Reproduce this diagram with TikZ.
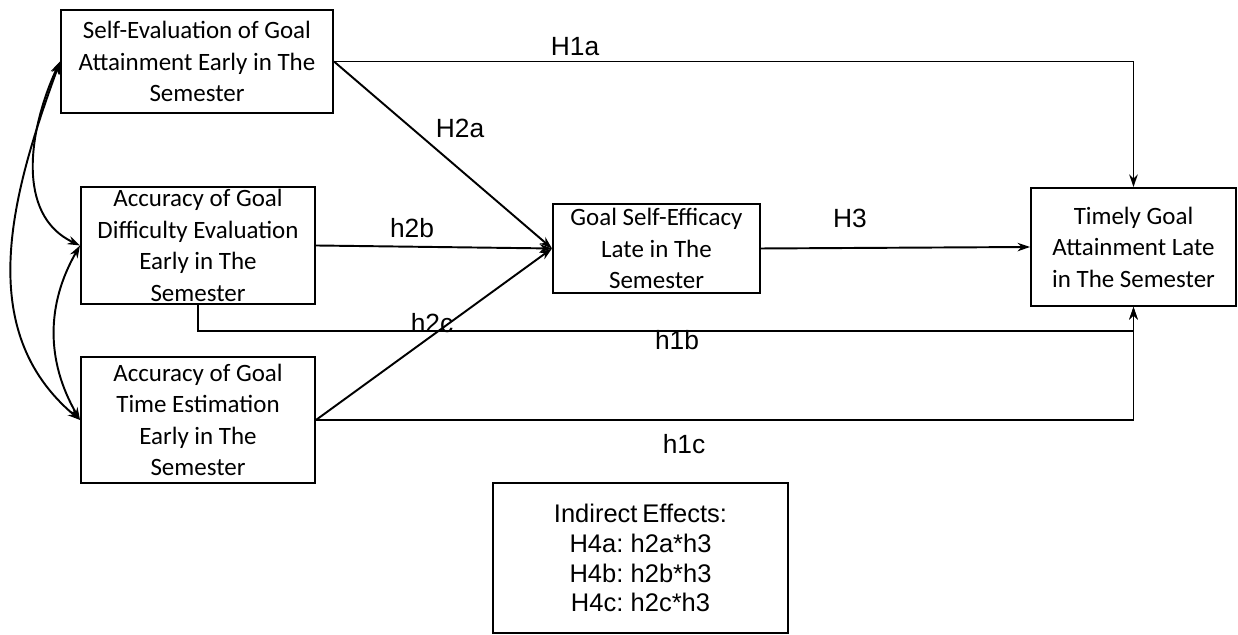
\documentclass[tikz,border=0pt]{standalone}
\usepackage{fontspec}
\setmainfont{Carlito}
\newfontfamily\labfont[WordSpace=0.7]{Liberation Sans}
\usetikzlibrary{arrows.meta,positioning}
\tikzset{>={Stealth[length=2.5mm,width=1.7mm]},
 box/.style={draw,line width=1.1pt,align=center,inner sep=1pt,
 font=\fontsize{14.2}{17.9}\selectfont},
 lab/.style={font=\labfont\fontsize{15}{15}\selectfont},
 link/.style={line width=1.1pt,->}}

\begin{document}
\begin{tikzpicture}[x=0.2mm,y=0.2mm]
\useasboundingbox (0,0) rectangle (1238,635);
% boxes
\node[box,minimum width=54.4mm,minimum height=20.6mm] (selfeval) at (197,573.5)
 {Self-Evaluation of Goal\\Attainment Early in The\\Semester};
\node[box,minimum width=46.8mm,minimum height=23.4mm] (diffacc) at (198,389.5)
 {Accuracy of Goal\\Difficulty Evaluation\\Early in The\\Semester};
\node[box,minimum width=46.8mm,minimum height=25.2mm] (timeacc) at (198,215)
 {Accuracy of Goal\\Time Estimation\\Early in The\\Semester};
\node[box,minimum width=41.4mm,minimum height=17.8mm] (efficacy) at (656.5,386.5)
 {Goal Self-Efficacy\\Late in The\\Semester};
\node[box,minimum width=41mm,minimum height=23.6mm] (timely) at (1133.5,388)
 {Timely Goal\\Attainment Late\\in The Semester};
\node[box,minimum width=59mm,minimum height=30mm,
 font=\labfont\fontsize{14.5}{17}\selectfont] (indirect) at (640.5,77)
 {Indirect Effects:\\H4a: h2a*h3\\H4b: h2b*h3\\H4c: h2c*h3};
% paths
\coordinate (h1bturn) at (198,304);
\draw[link] (selfeval.east) -| (timely.north);
\draw[link] (selfeval.east) -- (efficacy.west);
\draw[link] (diffacc.east) -- (efficacy.west);
\draw[link] (timeacc.east) -- (efficacy.west);
\draw[link] (diffacc.south) -- (h1bturn) -| (timely.south);
\draw[link] (timeacc.east) -| (timely.south);
\draw[link] (efficacy.east) -- (timely.west);
% correlations
\draw[link,<->] (selfeval.west) to[out=245,in=155] (diffacc.west);
\draw[link,<->] (selfeval.west) to[out=250,in=140] (timeacc.west);
\draw[link,<->] (diffacc.west) to[out=240,in=120] (timeacc.west);
% labels
\node[lab] (labh1a) at (575,588) {H1a};
\node[lab] (labh2a) at (460,507) {H2a};
\node[lab] (labh2b) at (412,407) {h2b};
\node[lab] (labh1b) at (677,295) {h1b};
\node[lab] (labh2c) at (432,312) {h2c};
\node[lab] (labh1c) at (684,191) {h1c};
\node[lab] (labh3) at (850,417) {H3};
\end{tikzpicture}
\end{document}
